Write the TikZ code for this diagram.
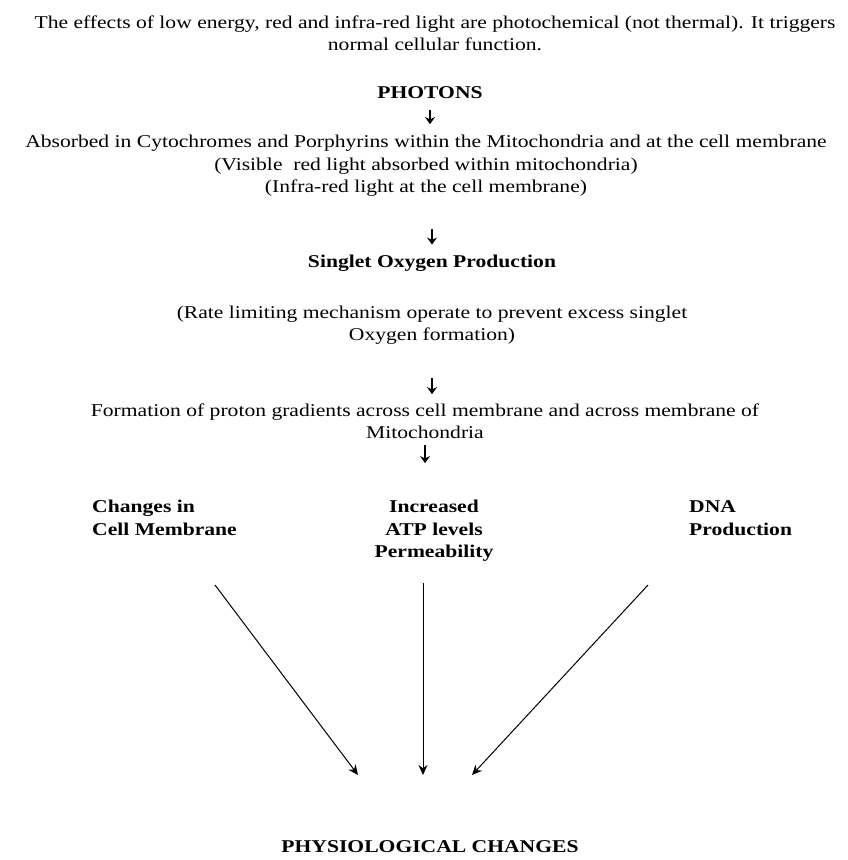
\documentclass[tikz,border=0pt]{standalone}
\usepackage{fontspec}
\setmainfont{Liberation Serif}[FakeStretch=1.2]
\usetikzlibrary{arrows.meta}
\tikzset{
  txt/.style={inner sep=0pt, align=center, font=\fontsize{18}{22.5}\selectfont},
  bld/.style={txt, font=\fontsize{18}{22.5}\selectfont\bfseries},
  darr/.style={-{Stealth[length=7pt,width=10pt]}, line width=1.8pt},
  larr/.style={-{Stealth[length=10pt,width=9pt]}, line width=1pt}
}
\begin{document}
\begin{tikzpicture}[x=1pt,y=1pt]
    % Frame
    \useasboundingbox (0,0) rectangle (847,-860);
    % Texts
    \node [txt] (intro) at (435,-33.5) {The effects of low energy, red and infra-red light are photochemical (not thermal). It triggers\\normal cellular function.};
    \node [bld] (photons) at (430,-93) {PHOTONS};
    \node [txt] (absorbed) at (426,-166) {Absorbed in Cytochromes and Porphyrins within the Mitochondria and at the cell membrane\\(Visible\ \ red light absorbed within mitochondria)\\(Infra-red light at the cell membrane)};
    \node [bld] (singlet) at (432,-263) {Singlet Oxygen Production};
    \node [txt] (rate) at (432,-325) {(Rate limiting mechanism operate to prevent excess singlet\\Oxygen formation)};
    \node [txt] (formation) at (425,-421) {Formation of proton gradients across cell membrane and across membrane of\\Mitochondria};
    \node [bld, align=left, anchor=west] (changes) at (92,-518) {Changes in\\Cell Membrane};
    \node [bld] (increased) at (434,-531) {Increased\\ATP levels\\Permeability};
    \node [bld, align=left, anchor=west] (dna) at (689,-518) {DNA\\Production};
    \node [bld] (physio) at (430,-847) {PHYSIOLOGICAL CHANGES};
    % Coordinate
    \coordinate (c1) at (215,-585);
    \coordinate (c2) at (423,-583);
    \coordinate (c3) at (648,-585);
    \coordinate (e1) at (358,-775);
    \coordinate (e2) at (423,-775);
    \coordinate (e3) at (472,-775);
    % Short arrows
    \draw [darr, shorten <=11pt, shorten >=11pt] (photons) -- (photons |- absorbed.north);
    \draw [darr, shorten <=32pt, shorten >=10pt] (absorbed.south -| rate) -- (singlet.north -| rate);
    \draw [darr, shorten <=33pt, shorten >=9pt] (rate.south) -- (rate.south |- formation.north);
    \draw [darr, shorten <=6pt, shorten >=37pt] (formation.south) -- (formation.south |- increased.north);
    % Long arrows
    \draw [larr] (c1) -- (e1); % left
    \draw [larr] (c2) -- (e2); % middle
    \draw [larr] (c3) -- (e3); % right
\end{tikzpicture}
\end{document}
